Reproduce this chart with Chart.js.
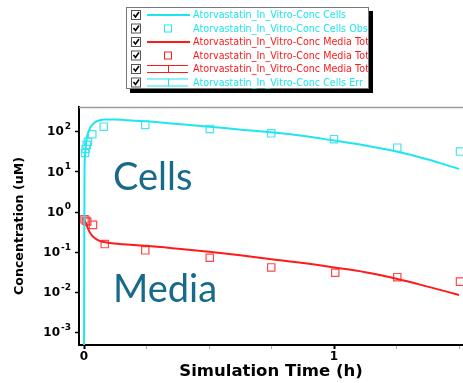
<!DOCTYPE html>
<html>
<head>
<meta charset="utf-8">
<script src="https://cdn.jsdelivr.net/npm/chart.js@4.4.1/dist/chart.umd.min.js"></script>
<style>
  html, body { margin: 0; padding: 0; background: #fff; }
  #wrap { width: 463px; height: 383px; position: relative; }
</style>
</head>
<body>
<div id="wrap"><canvas id="chart" width="463" height="383"></canvas></div>
<script>
// simulated curves (time h, concentration uM)
const cellsSimTime = [0, 0.002, 0.004, 0.008, 0.012, 0.018, 0.024, 0.034, 0.044, 0.06, 0.084, 0.12, 0.18, 0.25, 0.35, 0.5, 0.62, 0.75, 0.88, 1.0, 1.12, 1.25, 1.38, 1.5];
const cellsSimConc = [0.0001, 10, 25, 50, 74, 100, 124, 150, 172, 190, 200, 200, 192, 181, 160, 133, 114, 97, 78, 60, 46, 32, 20, 11.8];
const mediaSimTime = [0, 0.005, 0.01, 0.02, 0.03, 0.045, 0.065, 0.09, 0.12, 0.25, 0.375, 0.5, 0.625, 0.75, 0.875, 1.0, 1.125, 1.25, 1.375, 1.5];
const mediaSimConc = [0.7, 0.58, 0.48, 0.34, 0.27, 0.22, 0.19, 0.175, 0.165, 0.145, 0.123, 0.103, 0.084, 0.067, 0.054, 0.042, 0.032, 0.022, 0.014, 0.0087];

// observed
const cellsObsTime = [0.004, 0.007, 0.011, 0.016, 0.033, 0.079, 0.245, 0.503, 0.749, 1.0, 1.253, 1.504];
const cellsObsConc = [29.5, 37, 47, 56, 86, 133, 147, 117, 91, 65, 40, 32];
const mediaObsTime = [0.002, 0.008, 0.013, 0.036, 0.083, 0.245, 0.503, 0.749, 1.005, 1.253, 1.504];
const mediaObsConc = [0.66, 0.61, 0.575, 0.48, 0.16, 0.112, 0.073, 0.042, 0.031, 0.024, 0.0186];

const yTicks = [0.001, 0.01, 0.1, 1, 10, 100];
const xTicks = [0, 0.25, 0.5, 0.75, 1, 1.25, 1.5];

const CYAN = '#1fe6ee';
const RED = '#ff1a1a';
const FONT = '"DejaVu Sans", Verdana, sans-serif';

const pts = (xs, ys) => xs.map((x, i) => ({ x: x, y: ys[i] }));

const legendPlugin = {
    id: 'boxLegend',
    afterDraw(chart) {
        const ctx = chart.ctx;
        const bx = 126, by = 7, bw = 243, bh = 82;
        ctx.save();
        ctx.fillStyle = '#000';
        ctx.fillRect(bx + 4, by + 4, bw, bh);
        ctx.fillStyle = '#fff';
        ctx.fillRect(bx, by, bw, bh);
        ctx.strokeStyle = '#777';
        ctx.lineWidth = 1;
        ctx.strokeRect(bx + 0.5, by + 0.5, bw - 1, bh - 1);
        ctx.beginPath();
        ctx.rect(bx, by, bw - 1, bh);
        ctx.clip();
        chart.data.datasets.forEach((ds, i) => {
            const cy = 15 + i * 13.5;
            // checkbox
            ctx.fillStyle = '#fff';
            ctx.fillRect(131, cy - 5, 10, 10);
            ctx.strokeStyle = '#555';
            ctx.lineWidth = 1;
            ctx.strokeRect(131.5, cy - 4.5, 9, 9);
            ctx.strokeStyle = '#000';
            ctx.lineWidth = 1.6;
            ctx.beginPath();
            ctx.moveTo(133.5, cy - 0.5);
            ctx.lineTo(135.5, cy + 2);
            ctx.lineTo(139, cy - 3);
            ctx.stroke();
            // symbol
            const col = ds.legendColor;
            ctx.strokeStyle = col;
            if (ds.kind === 'line') {
                ctx.lineWidth = 2;
                ctx.beginPath();
                ctx.moveTo(147, cy);
                ctx.lineTo(190, cy);
                ctx.stroke();
            } else if (ds.kind === 'obs') {
                ctx.lineWidth = 1;
                ctx.strokeRect(164.5, cy - 3.5, 7, 7);
            } else {
                ctx.lineWidth = 1;
                ctx.beginPath();
                ctx.moveTo(147, cy - 3.5); ctx.lineTo(188, cy - 3.5);
                ctx.moveTo(147, cy + 3.5); ctx.lineTo(188, cy + 3.5);
                ctx.moveTo(168.5, cy - 3.5); ctx.lineTo(168.5, cy + 3.5);
                ctx.stroke();
            }
            ctx.fillStyle = col;
            ctx.font = '9.6px ' + FONT;
            ctx.textBaseline = 'middle';
            ctx.textAlign = 'left';
            ctx.fillText(ds.label, 193, cy + 0.5);
        });
        ctx.restore();
    }
};

const decorPlugin = {
    id: 'decor',
    afterDraw(chart) {
        const ctx = chart.ctx;
        const area = chart.chartArea;
        const ys = chart.scales.y;
        ctx.save();
        // top frame line
        ctx.strokeStyle = '#9a9a9a';
        ctx.lineWidth = 1.5;
        ctx.beginPath();
        ctx.moveTo(area.left, area.top + 0.5);
        ctx.lineTo(area.right, area.top + 0.5);
        ctx.stroke();
        // y tick labels as 10^n
        ctx.fillStyle = '#000';
        ctx.textBaseline = 'middle';
        ys.ticks.forEach(t => {
            const y = ys.getPixelForValue(t.value);
            const ex = String(Math.round(Math.log10(t.value)));
            ctx.font = 'bold 9px ' + FONT;
            const ew = ctx.measureText(ex).width;
            ctx.textAlign = 'left';
            ctx.fillText(ex, 71 - ew, y - 5);
            ctx.font = 'bold 12px ' + FONT;
            ctx.textAlign = 'right';
            ctx.fillText('10', 70 - ew, y + 0.5);
        });
        // annotations
        ctx.fillStyle = '#176a8a';
        ctx.font = '38px Lato, "Open Sans", sans-serif';
        ctx.textAlign = 'left';
        ctx.textBaseline = 'alphabetic';
        ctx.fillText('Cells', 113, 190);
        ctx.fillText('Media', 113, 302);
        ctx.restore();
    }
};

new Chart(document.getElementById('chart'), {
    type: 'line',
    data: {
        datasets: [
            { label: 'Atorvastatin_In_Vitro-Conc Cells', kind: 'line', legendColor: CYAN,
              data: pts(cellsSimTime, cellsSimConc), borderColor: CYAN, borderWidth: 2,
              pointRadius: 0, cubicInterpolationMode: 'monotone', fill: false },
            { label: 'Atorvastatin_In_Vitro-Conc Cells Obs', kind: 'obs', legendColor: CYAN,
              data: pts(cellsObsTime, cellsObsConc), showLine: false, pointStyle: 'rect',
              pointRadius: 5.2, borderColor: '#45e4ee', borderWidth: 1.2, backgroundColor: 'rgba(0,0,0,0)' },
            { label: 'Atorvastatin_In_Vitro-Conc Media Total', kind: 'line', legendColor: RED,
              data: pts(mediaSimTime, mediaSimConc), borderColor: RED, borderWidth: 2,
              pointRadius: 0, cubicInterpolationMode: 'monotone', fill: false },
            { label: 'Atorvastatin_In_Vitro-Conc Media Total Obs', kind: 'obs', legendColor: RED,
              data: pts(mediaObsTime, mediaObsConc), showLine: false, pointStyle: 'rect',
              pointRadius: 5.2, borderColor: '#ff4848', borderWidth: 1.2, backgroundColor: 'rgba(0,0,0,0)' },
            { label: 'Atorvastatin_In_Vitro-Conc Media Total Err', kind: 'err', legendColor: RED,
              data: [], borderColor: RED },
            { label: 'Atorvastatin_In_Vitro-Conc Cells Err', kind: 'err', legendColor: CYAN,
              data: [], borderColor: CYAN }
        ]
    },
    options: {
        responsive: false,
        animation: false,
        layout: { autoPadding: false, padding: { left: 0, right: 0, top: 107, bottom: 0 } },
        plugins: { legend: { display: false }, tooltip: { enabled: false } },
        scales: {
            x: {
                type: 'linear',
                min: -0.02,
                max: 1.516,
                afterBuildTicks: s => { s.ticks = xTicks.map(v => ({ value: v })); },
                afterFit: s => { s.height = 38; s.paddingLeft = 0; s.paddingRight = 0; },
                ticks: {
                    autoSkip: false,
                    maxRotation: 0,
                    padding: 1,
                    color: '#000',
                    font: { family: FONT, size: 12, weight: 'bold' },
                    callback: v => Number.isInteger(v) ? String(v) : ''
                },
                grid: {
                    drawOnChartArea: false,
                    tickLength: 4,
                    tickColor: c => Number.isInteger(c.tick && c.tick.value) ? '#000' : '#aaa',
                    tickWidth: c => Number.isInteger(c.tick && c.tick.value) ? 2 : 1
                },
                border: { color: '#000', width: 2 },
                title: {
                    display: true,
                    text: 'Simulation Time (h)',
                    color: '#000',
                    padding: { top: 0, bottom: 1 },
                    font: { family: FONT, size: 16.5, weight: 'bold' }
                }
            },
            y: {
                type: 'logarithmic',
                min: 0.000494,
                max: 411,
                afterBuildTicks: s => { s.ticks = yTicks.map(v => ({ value: v })); },
                afterFit: s => { s.width = 79; s.paddingTop = 0; s.paddingBottom = 0; },
                ticks: { display: false },
                grid: { drawOnChartArea: false, tickLength: 4, tickColor: '#000', tickWidth: 1.5 },
                border: { color: '#000', width: 2 },
                title: {
                    display: true,
                    text: 'Concentration (uM)',
                    color: '#000',
                    padding: { top: 12, bottom: 0 },
                    font: { family: FONT, size: 12.6, weight: 'bold' }
                }
            }
        }
    },
    plugins: [legendPlugin, decorPlugin]
});
</script>
</body>
</html>
